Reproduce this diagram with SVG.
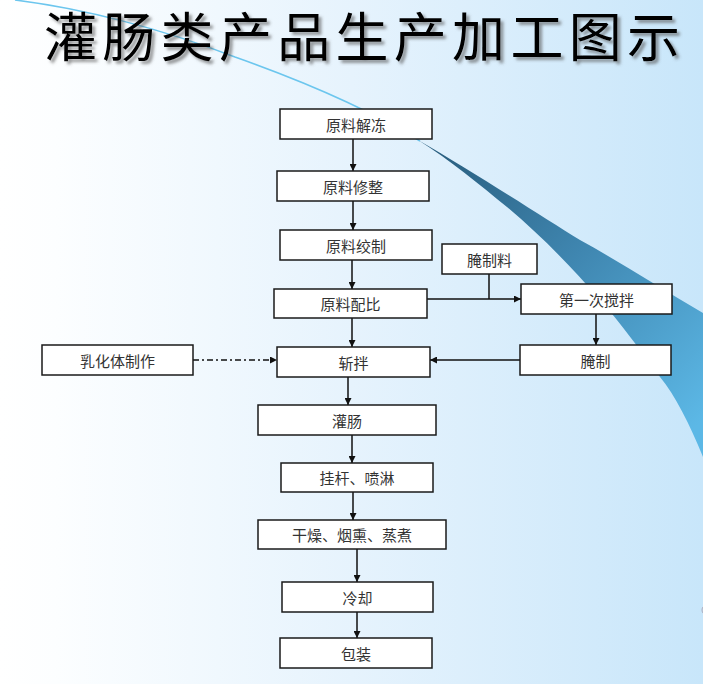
<svg xmlns="http://www.w3.org/2000/svg" width="703" height="684" viewBox="0 0 703 684">
<defs>
  <linearGradient id="bg" x1="0" y1="0" x2="1" y2="0">
    <stop offset="0" stop-color="#ffffff"/>
    <stop offset="0.08" stop-color="#fcfeff"/>
    <stop offset="0.5" stop-color="#e6f3fd"/>
    <stop offset="1" stop-color="#c8e6fa"/>
  </linearGradient>
  <linearGradient id="wedge" x1="440" y1="150" x2="703" y2="420" gradientUnits="userSpaceOnUse">
    <stop offset="0" stop-color="#2a5f80"/>
    <stop offset="0.45" stop-color="#3f86b0"/>
    <stop offset="1" stop-color="#5cb8e6"/>
  </linearGradient>
  <filter id="shadow" x="-5%" y="-40%" width="110%" height="180%">
    <feDropShadow dx="3" dy="3" stdDeviation="1.5" flood-color="#555" flood-opacity="0.6"/>
  </filter>
  <marker id="arr" viewBox="0 0 10 10" refX="10" refY="5" markerWidth="7" markerHeight="7" markerUnits="userSpaceOnUse" orient="auto">
    <path d="M0,0 L10,5 L0,10 z" fill="#111"/>
  </marker>
  <style>
    .box { fill: #ffffff; stroke: #1a1a1a; stroke-width: 1.5; }
    .lbl { font-family: "Noto Sans CJK SC", "Noto Sans CJK JP", sans-serif; font-size: 15px; fill: #333; text-anchor: middle; dominant-baseline: central; }
    .ln { stroke: #111; stroke-width: 1.5; fill: none; }
    .title { font-family: "Noto Sans CJK SC", "Noto Sans CJK JP", sans-serif; font-size: 53px; font-weight: 400; fill: #000; }
  </style>
</defs>

<!-- background -->
<rect x="0" y="0" width="703" height="684" fill="url(#bg)"/>
<path d="M15,0 C80,8 160,28 235,57 C300,80 370,110 420,141" fill="none" stroke="#6cc6ee" stroke-width="1.5"/>
<path d="M418,140 C470,170 540,215 580,240 C620,262 660,288 703,313 L703,457 C690,425 675,395 660,377 C640,350 620,322 600,300 C570,265 540,235 507,207 C480,185 450,160 418,140 z" fill="url(#wedge)"/>
<circle cx="707" cy="610" r="5" fill="none" stroke="#aab" stroke-width="1"/>

<!-- title -->
<text class="title" x="44" y="57" textLength="636" lengthAdjust="spacing" filter="url(#shadow)">灌肠类产品生产加工图示</text>

<!-- connectors -->
<g id="connectors">
  <line class="ln" x1="353" y1="139" x2="353" y2="171" marker-end="url(#arr)"/>
  <line class="ln" x1="353" y1="201" x2="353" y2="230" marker-end="url(#arr)"/>
  <line class="ln" x1="352" y1="260" x2="352" y2="289" marker-end="url(#arr)"/>
  <line class="ln" x1="427" y1="299" x2="521" y2="299" marker-end="url(#arr)"/>
  <line class="ln" x1="489" y1="274" x2="489" y2="299"/>
  <line class="ln" x1="596" y1="314" x2="596" y2="345" marker-end="url(#arr)"/>
  <line class="ln" x1="520" y1="360" x2="430" y2="360" marker-end="url(#arr)"/>
  <line class="ln" x1="352" y1="318" x2="352" y2="347" marker-end="url(#arr)"/>
  <line class="ln" x1="193" y1="360" x2="277" y2="360" stroke-dasharray="6,3,2,3" marker-end="url(#arr)"/>
  <line class="ln" x1="348" y1="377" x2="348" y2="405" marker-end="url(#arr)"/>
  <line class="ln" x1="352" y1="435" x2="352" y2="463" marker-end="url(#arr)"/>
  <line class="ln" x1="353" y1="492" x2="353" y2="520" marker-end="url(#arr)"/>
  <line class="ln" x1="357" y1="549" x2="357" y2="582" marker-end="url(#arr)"/>
  <line class="ln" x1="357" y1="612" x2="357" y2="638" marker-end="url(#arr)"/>
</g>

<!-- nodes -->
<g id="n1"><rect class="box" x="280" y="109" width="152" height="30"/><text class="lbl" x="356" y="124">原料解冻</text></g>
<g id="n2"><rect class="box" x="277" y="171" width="152" height="30"/><text class="lbl" x="353" y="186">原料修整</text></g>
<g id="n3"><rect class="box" x="280" y="230" width="152" height="30"/><text class="lbl" x="356" y="245">原料绞制</text></g>
<g id="n4"><rect class="box" x="442" y="244" width="95" height="30"/><text class="lbl" x="489.5" y="259">腌制料</text></g>
<g id="n5"><rect class="box" x="274" y="289" width="153" height="29"/><text class="lbl" x="350.5" y="303.5">原料配比</text></g>
<g id="n6"><rect class="box" x="521" y="284" width="151" height="30"/><text class="lbl" x="596.5" y="299">第一次搅拌</text></g>
<g id="n7"><rect class="box" x="277" y="347" width="153" height="30"/><text class="lbl" x="353.5" y="362">斩拌</text></g>
<g id="n8"><rect class="box" x="520" y="345" width="151" height="30"/><text class="lbl" x="595.5" y="360">腌制</text></g>
<g id="n9"><rect class="box" x="42" y="345" width="151" height="30"/><text class="lbl" x="117.5" y="360">乳化体制作</text></g>
<g id="n10"><rect class="box" x="258" y="405" width="178" height="30"/><text class="lbl" x="347" y="420">灌肠</text></g>
<g id="n11"><rect class="box" x="281" y="463" width="152" height="29"/><text class="lbl" x="357" y="477.5">挂杆、喷淋</text></g>
<g id="n12"><rect class="box" x="258" y="520" width="188" height="29"/><text class="lbl" x="352" y="534.5">干燥、烟熏、蒸煮</text></g>
<g id="n13"><rect class="box" x="282" y="582" width="151" height="30"/><text class="lbl" x="357.5" y="597">冷却</text></g>
<g id="n14"><rect class="box" x="280" y="638" width="152" height="30"/><text class="lbl" x="356" y="653">包装</text></g>
</svg>
